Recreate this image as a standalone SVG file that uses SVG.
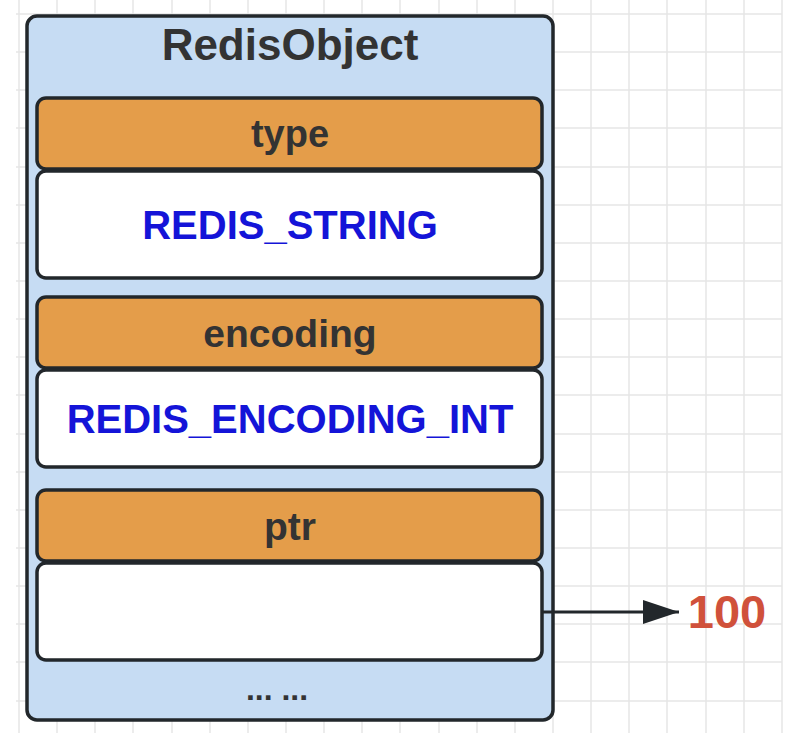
<svg xmlns="http://www.w3.org/2000/svg" width="788" height="748" viewBox="0 0 788 748">
  <defs>
    <style>
      .grid line { stroke: #e6e6e6; stroke-width: 1.5; }
      .outer { fill: #c6dcf3; stroke: #22272b; stroke-width: 3.5; }
      .hdr { fill: #e49d4a; stroke: #22272b; stroke-width: 3.5; }
      .val { fill: #ffffff; stroke: #22272b; stroke-width: 3.5; }
      .t { font-family: "Liberation Sans", Arial, sans-serif; font-weight: bold; text-anchor: middle; }
      .dark { fill: #333333; }
      .blue { fill: #1414d8; }
      .conn { stroke: #22272b; stroke-width: 3; fill: none; }
    </style>
    <marker id="arrow" markerUnits="userSpaceOnUse" markerWidth="40" markerHeight="30" refX="36" refY="12" orient="auto">
      <path d="M0,0 L36,12 L0,24 Z" fill="#22272b"/>
    </marker>
  </defs>
  <rect width="788" height="748" fill="#ffffff"/>
  <g class="grid">
    <line x1="19" y1="0" x2="19" y2="733"/>
    <line x1="57" y1="0" x2="57" y2="733"/>
    <line x1="95" y1="0" x2="95" y2="733"/>
    <line x1="133" y1="0" x2="133" y2="733"/>
    <line x1="172" y1="0" x2="172" y2="733"/>
    <line x1="210" y1="0" x2="210" y2="733"/>
    <line x1="248" y1="0" x2="248" y2="733"/>
    <line x1="286" y1="0" x2="286" y2="733"/>
    <line x1="324" y1="0" x2="324" y2="733"/>
    <line x1="362" y1="0" x2="362" y2="733"/>
    <line x1="400" y1="0" x2="400" y2="733"/>
    <line x1="439" y1="0" x2="439" y2="733"/>
    <line x1="477" y1="0" x2="477" y2="733"/>
    <line x1="515" y1="0" x2="515" y2="733"/>
    <line x1="553" y1="0" x2="553" y2="733"/>
    <line x1="591" y1="0" x2="591" y2="733"/>
    <line x1="629" y1="0" x2="629" y2="733"/>
    <line x1="667" y1="0" x2="667" y2="733"/>
    <line x1="706" y1="0" x2="706" y2="733"/>
    <line x1="744" y1="0" x2="744" y2="733"/>
    <line x1="782" y1="0" x2="782" y2="733"/>
    <line x1="16" y1="14" x2="782" y2="14"/>
    <line x1="16" y1="52" x2="782" y2="52"/>
    <line x1="16" y1="90" x2="782" y2="90"/>
    <line x1="16" y1="128" x2="782" y2="128"/>
    <line x1="16" y1="167" x2="782" y2="167"/>
    <line x1="16" y1="205" x2="782" y2="205"/>
    <line x1="16" y1="243" x2="782" y2="243"/>
    <line x1="16" y1="281" x2="782" y2="281"/>
    <line x1="16" y1="319" x2="782" y2="319"/>
    <line x1="16" y1="357" x2="782" y2="357"/>
    <line x1="16" y1="395" x2="782" y2="395"/>
    <line x1="16" y1="434" x2="782" y2="434"/>
    <line x1="16" y1="472" x2="782" y2="472"/>
    <line x1="16" y1="510" x2="782" y2="510"/>
    <line x1="16" y1="548" x2="782" y2="548"/>
    <line x1="16" y1="586" x2="782" y2="586"/>
    <line x1="16" y1="624" x2="782" y2="624"/>
    <line x1="16" y1="662" x2="782" y2="662"/>
    <line x1="16" y1="701" x2="782" y2="701"/>
  </g>
  <g id="redisobject">
    <rect class="outer" x="27" y="16" width="526" height="704" rx="10"/>
    <text class="t dark" x="290" y="60" font-size="44">RedisObject</text>
  </g>
  <g id="type">
    <rect class="hdr" x="37" y="98" width="505" height="71" rx="9"/>
    <text class="t dark" x="290" y="147" font-size="38">type</text>
  </g>
  <g id="type-value">
    <rect class="val" x="37" y="171" width="505" height="107" rx="9"/>
    <text class="t blue" x="290" y="239" font-size="40">REDIS_STRING</text>
  </g>
  <g id="encoding">
    <rect class="hdr" x="37" y="297" width="505" height="71" rx="9"/>
    <text class="t dark" x="290" y="347" font-size="39">encoding</text>
  </g>
  <g id="encoding-value">
    <rect class="val" x="37" y="370" width="505" height="97" rx="9"/>
    <text class="t blue" x="290" y="433" font-size="40">REDIS_ENCODING_INT</text>
  </g>
  <g id="ptr">
    <rect class="hdr" x="37" y="490" width="505" height="71" rx="9"/>
    <text class="t dark" x="290" y="540" font-size="39">ptr</text>
  </g>
  <g id="ptr-value">
    <rect class="val" x="37" y="563" width="505" height="97" rx="9"/>
  </g>
  <g id="more">
    <text class="t dark" x="277" y="700" font-size="32">... ...</text>
  </g>
  <g id="value-100">
    <text class="t" x="727" y="628" font-size="47" fill="#d0513b">100</text>
  </g>
  <g id="connectors">
    <line class="conn" x1="542" y1="612" x2="679" y2="612" marker-end="url(#arrow)"/>
  </g>
</svg>
